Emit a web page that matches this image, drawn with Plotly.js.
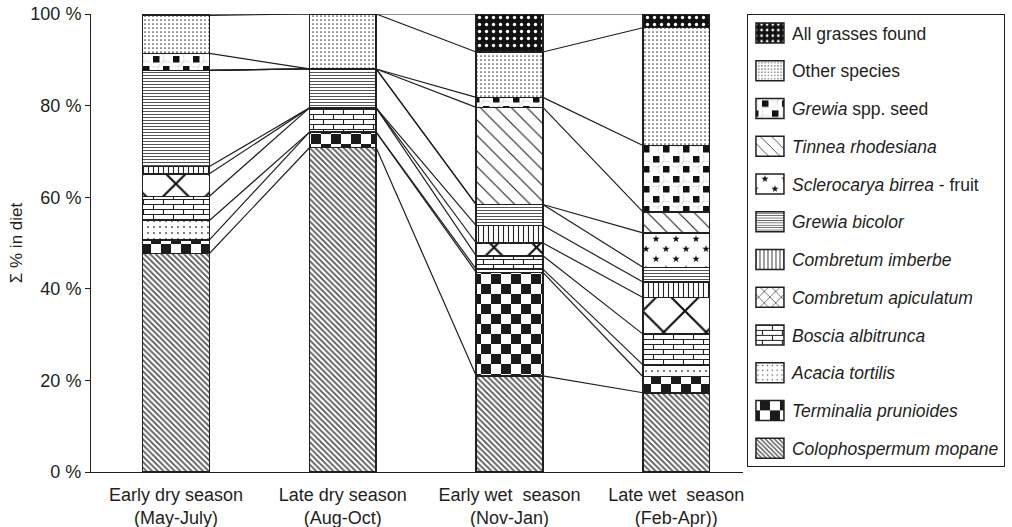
<!DOCTYPE html>
<html>
<head>
<meta charset="utf-8">
<script src="https://cdn.plot.ly/plotly-3.0.1.min.js"></script>
<style>html,body{margin:0;padding:0;background:#fff;}#chart{width:1012px;height:527px;}</style>
</head>
<body>
<svg width="0" height="0" style="position:absolute;left:0;top:0">
  <defs>
    <pattern id="pCheck" patternUnits="userSpaceOnUse" width="20" height="20">
      <rect width="20" height="20" fill="#fff"/>
      <rect x="0" y="0" width="10" height="10" fill="#1a1a1a"/>
      <rect x="10" y="10" width="10" height="10" fill="#1a1a1a"/>
    </pattern>
    <pattern id="pBrick" patternUnits="userSpaceOnUse" width="20" height="10">
      <rect width="20" height="10" fill="#fff"/>
      <path d="M0,0.5H20M0,5.5H20M2.5,0.5V5.5M12.5,5.5V10.5" stroke="#222" stroke-width="1.1" fill="none"/>
    </pattern>
    <pattern id="pSquares" patternUnits="userSpaceOnUse" width="20" height="20">
      <rect width="20" height="20" fill="#fff"/>
      <circle cx="5" cy="5" r="8" fill="none" stroke="#ccc" stroke-width="0.6"/>
      <circle cx="15" cy="15" r="8" fill="none" stroke="#ccc" stroke-width="0.6"/>
      <rect x="2" y="2" width="6.5" height="6.5" fill="#111"/>
      <rect x="12" y="12" width="6.5" height="6.5" fill="#111"/>
    </pattern>
    <pattern id="pStars" patternUnits="userSpaceOnUse" width="20" height="20">
      <rect width="20" height="20" fill="#fff"/>
      <path id="starA" fill="#111" d=""/>
      <path id="starB" fill="#111" d=""/>
    </pattern>
  </defs>
</svg>
<div id="chart"></div>
<script>
// ---- data (percent of diet), stacked bottom -> top ----
const categories = ['Early dry season<br>(May-July)', 'Late dry season<br>(Aug-Oct)', 'Early wet  season<br>(Nov-Jan)', 'Late wet  season<br>(Feb-Apr))'];
const yTickValues = [0, 20, 40, 60, 80, 100];
const yTickLabels = ['0 %', '20 %', '40 %', '60 %', '80 %', '100 %'];
const mopane      = [47.7, 70.8, 21.0, 17.3];
const terminalia  = [3.0, 3.4, 22.6, 3.5];
const acacia      = [4.2, 0, 0.7, 2.6];
const boscia      = [5.3, 5.3, 2.9, 6.7];
const cApiculatum = [4.9, 0, 2.8, 8.0];
const cImberbe    = [1.6, 0, 3.8, 3.4];
const gBicolor    = [21.0, 8.5, 4.6, 3.2];
const sclerocarya = [0, 0, 0, 7.5];
const tinnea      = [0, 0, 21.2, 4.6];
const grewiaSeed  = [3.7, 0, 2.2, 14.5];
const otherSp     = [8.3, 12.0, 9.9, 25.7];
const grasses     = [0.3, 0, 8.3, 3.0];
const seriesNames = ['<i>Colophospermum mopane</i>', '<i>Terminalia prunioides</i>', '<i>Acacia tortilis</i>', '<i>Boscia albitrunca</i>',
  '<i>Combretum apiculatum</i>', '<i>Combretum imberbe</i>', '<i>Grewia bicolor</i>', '<i>Sclerocarya birrea</i> - fruit',
  '<i>Tinnea rhodesiana</i>', '<i>Grewia</i> spp. seed', 'Other species', 'All grasses found'];
const seriesValues = [mopane, terminalia, acacia, boscia, cApiculatum, cImberbe, gBicolor, sclerocarya, tinnea, grewiaSeed, otherSp, grasses];

// ---- styles ----
function starPath(cx, cy, ro, ri) {
  let d = '';
  for (let i = 0; i < 10; i++) {
    const r = i % 2 ? ri : ro;
    const a = -Math.PI / 2 + i * Math.PI / 5;
    d += (i ? 'L' : 'M') + (cx + r * Math.cos(a)).toFixed(2) + ',' + (cy + r * Math.sin(a)).toFixed(2);
  }
  return d + 'Z';
}
document.getElementById('starA').setAttribute('d', starPath(5, 5, 3.8, 1.5));
document.getElementById('starB').setAttribute('d', starPath(15, 15, 3.8, 1.5));

const ink = '#231f20';
const patterns = [
  {shape: '\\', fgcolor: '#555', bgcolor: '#fff', size: 4, solidity: 0.45},
  {shape: '.', fgcolor: ink, bgcolor: '#fff', size: 13, solidity: 0.5},
  {shape: '.', fgcolor: '#444', bgcolor: '#fff', size: 6, solidity: 0.07},
  {shape: '+', fgcolor: '#333', bgcolor: '#fff', size: 8, solidity: 0.2},
  {shape: 'x', fgcolor: '#111', bgcolor: '#fff', size: 30, solidity: 0.14},
  {shape: '|', fgcolor: '#222', bgcolor: '#fff', size: 5, solidity: 0.22},
  {shape: '-', fgcolor: '#555', bgcolor: '#fff', size: 3, solidity: 0.35},
  {shape: '.', fgcolor: '#222', bgcolor: '#fff', size: 14, solidity: 0.08},
  {shape: '\\', fgcolor: '#222', bgcolor: '#fff', size: 11, solidity: 0.1},
  {shape: '.', fgcolor: '#111', bgcolor: '#fff', size: 17, solidity: 0.12},
  {shape: '.', fgcolor: '#444', bgcolor: '#fff', size: 4, solidity: 0.15},
  {shape: '.', fgcolor: '#fff', bgcolor: '#111', size: 7, solidity: 0.18}
];
// richer SVG fills for the hatches Plotly has no built-in shape for
const customFills = {1: 'url(#pCheck)', 3: 'url(#pBrick)', 7: 'url(#pStars)', 9: 'url(#pSquares)'};

const xs = categories.map((_, i) => i);
const barW = 0.4;
const traces = seriesValues.map((vals, k) => ({
  type: 'bar', x: xs, y: vals, name: seriesNames[k], legendgroup: 'g' + k, legendrank: seriesValues.length - k,
  width: barW,
  marker: {color: '#fff', line: {color: ink, width: 1.5},
    pattern: Object.assign({fillmode: 'replace'}, patterns[k])},
  hoverinfo: 'skip'
}));

// series lines connecting tops of each series between adjacent bars
const cum = [];
seriesValues.forEach((vals, k) => {
  cum.push(vals.map((v, i) => v + (k ? cum[k - 1][i] : 0)));
});
const lx = [], ly = [];
cum.forEach(c => {
  for (let i = 0; i < xs.length - 1; i++) {
    lx.push(xs[i] + barW / 2, xs[i + 1] - barW / 2, null);
    ly.push(c[i], c[i + 1], null);
  }
});
traces.push({type: 'scatter', mode: 'lines', x: lx, y: ly, showlegend: false,
  line: {color: ink, width: 1.2}, hoverinfo: 'skip'});

const fam = '"Liberation Sans", Arial, sans-serif';
const tickFont = {family: fam, size: 18, color: ink};
const legFont = {family: fam, size: 17.5, color: ink};
const layout = {
  width: 1012, height: 527,
  margin: {l: 91, r: 269, t: 14, b: 55},
  paper_bgcolor: '#fff', plot_bgcolor: '#fff',
  font: tickFont,
  barmode: 'stack',
  showlegend: true,
  xaxis: {range: [-0.51, 3.4], tickvals: xs, ticktext: categories, showline: true, linecolor: ink, linewidth: 1,
    ticks: '', ticklabelstandoff: 6, showgrid: false, zeroline: false, fixedrange: true, tickfont: tickFont},
  yaxis: {range: [0, 100], tickvals: yTickValues, ticktext: yTickLabels, showline: true, linecolor: ink, linewidth: 1,
    ticks: 'outside', ticklen: 5, tickcolor: ink, showgrid: false, zeroline: false, fixedrange: true, tickfont: tickFont,
    title: {text: 'Σ % in diet', font: {family: fam, size: 17, color: ink}, standoff: 3}},
  legend: {xref: 'container', yref: 'container', x: 0.7381, xanchor: 'left', y: 0.9734, yanchor: 'top',
    traceorder: 'grouped', tracegroupgap: 12,
    maxheight: 520, bordercolor: ink, borderwidth: 1, bgcolor: '#fff', font: legFont, itemwidth: 34}
};
Plotly.newPlot('chart', traces, layout, {displayModeBar: false, staticPlot: true}).then(gd => {
  const barGroups = gd.querySelectorAll('.barlayer .trace');
  barGroups.forEach((g, k) => {
    if (customFills[k]) g.querySelectorAll('.point path').forEach(p => { p.style.fill = customFills[k]; });
  });
  gd.querySelectorAll('.legend .traces').forEach(el => {
    const d = el.__data__ && el.__data__[0] && el.__data__[0].trace;
    const path = el.querySelector('.legendpoints path');
    if (!path) return;
    path.setAttribute('d', 'M14,10H-14V-10H14Z');
    if (d && customFills[d.index]) path.style.fill = customFills[d.index];
  });
});
</script>
</body>
</html>
